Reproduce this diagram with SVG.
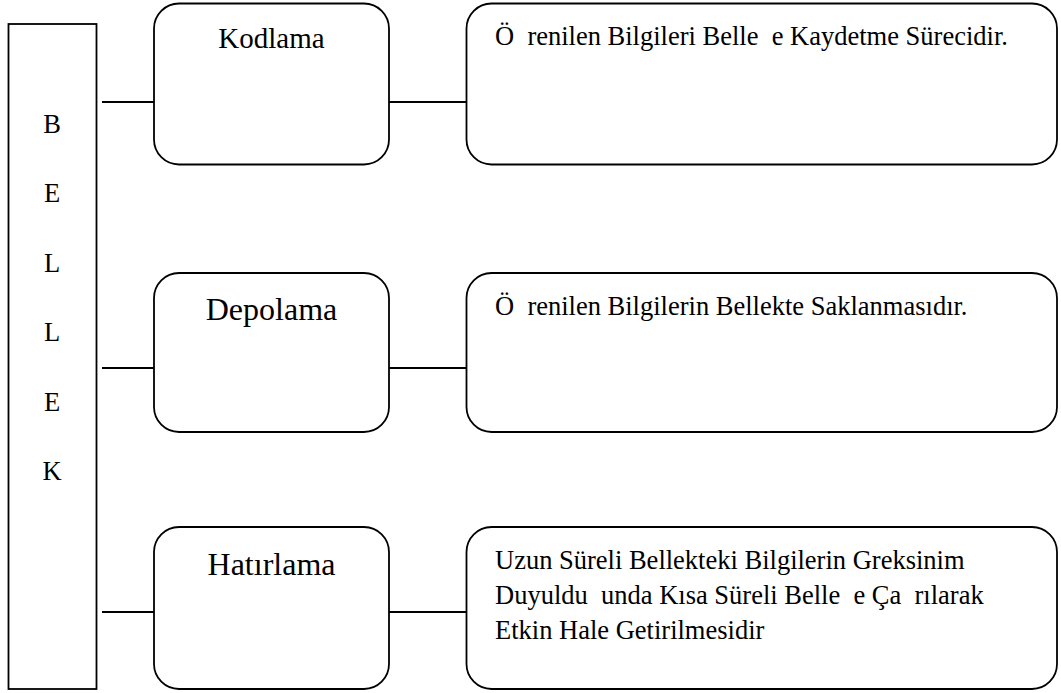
<svg xmlns="http://www.w3.org/2000/svg" width="1061" height="693" viewBox="0 0 1061 693">
  <style>
    .box { fill: #ffffff; stroke: #000000; stroke-width: 1.8; }
    .link { stroke: #000000; stroke-width: 1.8; fill: none; }
    text { font-family: "Liberation Serif", "Times New Roman", serif; fill: #000000; }
    .title { text-anchor: middle; font-size: 32px; }
    .title.small { font-size: 29px; }
    .desc { font-size: 26.5px; white-space: pre; }
    .letter { text-anchor: middle; font-size: 26.5px; }
  </style>
  <rect width="1061" height="693" fill="#ffffff"/>

  <!-- vertical BELLEK column -->
  <g id="bellek">
    <rect class="box" x="8.5" y="24" width="88" height="665"/>
    <text class="letter" x="52" y="133">B</text>
    <text class="letter" x="52" y="202.4">E</text>
    <text class="letter" x="52" y="271.8">L</text>
    <text class="letter" x="52" y="341.2">L</text>
    <text class="letter" x="52" y="410.6">E</text>
    <text class="letter" x="52" y="480">K</text>
  </g>

  <!-- connectors -->
  <g id="connectors">
    <line class="link" x1="102" y1="102" x2="154" y2="102"/>
    <line class="link" x1="389" y1="102" x2="466.5" y2="102"/>
    <line class="link" x1="102" y1="368" x2="154" y2="368"/>
    <line class="link" x1="389" y1="368" x2="466.5" y2="368"/>
    <line class="link" x1="102" y1="612" x2="154" y2="612"/>
    <line class="link" x1="389" y1="612" x2="466.5" y2="612"/>
  </g>

  <!-- stage: Kodlama -->
  <g id="kodlama">
    <rect class="box" x="154" y="3.5" width="235" height="161" rx="25" ry="25"/>
    <text class="title small" x="271.5" y="48">Kodlama</text>
  </g>
  <g id="kodlama-desc">
    <rect class="box" x="466.5" y="3.5" width="590.5" height="161" rx="25" ry="25"/>
    <text class="desc" x="495" y="45" xml:space="preserve">Ö  renilen Bilgileri Belle  e Kaydetme Sürecidir.</text>
  </g>

  <!-- stage: Depolama -->
  <g id="depolama">
    <rect class="box" x="154" y="273" width="235" height="159" rx="25" ry="25"/>
    <text class="title" x="271.5" y="320">Depolama</text>
  </g>
  <g id="depolama-desc">
    <rect class="box" x="466.5" y="273" width="590.5" height="159" rx="25" ry="25"/>
    <text class="desc" x="495" y="315" xml:space="preserve">Ö  renilen Bilgilerin Bellekte Saklanmasıdır.</text>
  </g>

  <!-- stage: Hatırlama -->
  <g id="hatirlama">
    <rect class="box" x="154" y="527" width="235" height="162" rx="25" ry="25"/>
    <text class="title" x="271.5" y="575">Hatırlama</text>
  </g>
  <g id="hatirlama-desc">
    <rect class="box" x="466.5" y="527" width="590.5" height="162" rx="25" ry="25"/>
    <text class="desc" x="495" y="569" xml:space="preserve">Uzun Süreli Bellekteki Bilgilerin Greksinim</text>
    <text class="desc" x="495" y="604" xml:space="preserve">Duyuldu  unda Kısa Süreli Belle  e Ça  rılarak</text>
    <text class="desc" x="495" y="639" xml:space="preserve">Etkin Hale Getirilmesidir</text>
  </g>
</svg>
